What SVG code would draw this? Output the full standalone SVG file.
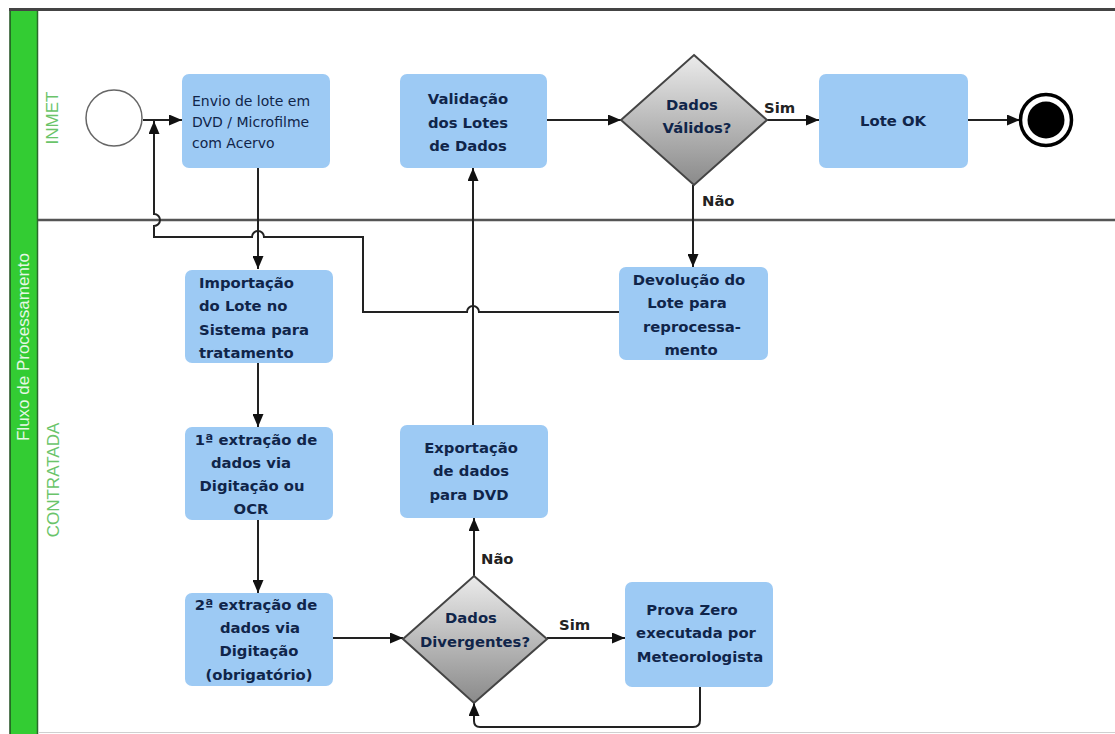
<svg xmlns="http://www.w3.org/2000/svg" width="1115" height="734" viewBox="0 0 1115 734">
<defs>
<linearGradient id="dg" x1="0" y1="0" x2="0" y2="1">
<stop offset="0" stop-color="#ebebeb"/>
<stop offset="1" stop-color="#8a8a8a"/>
</linearGradient>
<marker id="ah" viewBox="0 0 13 11" refX="13" refY="5.5" markerWidth="13" markerHeight="11" markerUnits="userSpaceOnUse" orient="auto">
<path d="M0,0 L13,5.5 L0,11 z" fill="#111"/>
</marker>
<style>
.box{fill:#9dcaf4;}
.t{font-family:"DejaVu Sans",Verdana,sans-serif;font-weight:bold;font-size:14.8px;fill:#10254a;}
.tr{font-family:"DejaVu Sans",Verdana,sans-serif;font-size:14px;fill:#10254a;}
.c{text-anchor:middle;}
.lbl{font-family:"DejaVu Sans",Verdana,sans-serif;font-weight:bold;font-size:14.8px;fill:#222;}
.lane{font-family:"Liberation Sans",Arial,sans-serif;font-size:17px;fill:#6ac46a;text-anchor:middle;}
.conn{fill:none;stroke:#222;stroke-width:2;}
.dia{fill:url(#dg);stroke:#444;stroke-width:2;}
</style>
</defs>
<rect x="0" y="0" width="1115" height="734" fill="#fff"/>
<g id="pool">
<rect x="10" y="8" width="28" height="726" fill="#33cc33"/>
<line x1="10" y1="8" x2="10" y2="734" stroke="#1f4f1f" stroke-width="1.5"/>
<line x1="37.5" y1="8" x2="37.5" y2="734" stroke="#2a6a2a" stroke-width="1.5"/>
<line x1="9" y1="9.5" x2="1115" y2="9.5" stroke="#444" stroke-width="3"/>
<line x1="38" y1="220" x2="1115" y2="220" stroke="#555" stroke-width="2.5"/>
<line x1="38" y1="732.5" x2="1115" y2="732.5" stroke="#d0d0d0" stroke-width="1"/>
<text class="lane" transform="translate(29,347) rotate(-90)" style="fill:#e6f8e6">Fluxo de Processamento</text>
<text class="lane" transform="translate(58,118) rotate(-90)">INMET</text>
<text class="lane" transform="translate(59,480) rotate(-90)">CONTRATADA</text>
</g>
<g id="connectors">
<path class="conn" d="M143,120 H182" marker-end="url(#ah)"/>
<path class="conn" d="M258,168 V269" marker-end="url(#ah)"/>
<path class="conn" d="M258,363 V427" marker-end="url(#ah)"/>
<path class="conn" d="M258,520 V593" marker-end="url(#ah)"/>
<path class="conn" d="M333,638 H403" marker-end="url(#ah)"/>
<path class="conn" d="M547,638 H625" marker-end="url(#ah)"/>
<path class="conn" d="M700,687 V720 Q700,727 693,727 H480 Q474,727 474,721 V703" marker-end="url(#ah)"/>
<path class="conn" d="M474,576 V518" marker-end="url(#ah)"/>
<path class="conn" d="M473,425 V168" marker-end="url(#ah)"/>
<path class="conn" d="M547,120 H621" marker-end="url(#ah)"/>
<path class="conn" d="M767,120 H819" marker-end="url(#ah)"/>
<path class="conn" d="M968,120 H1020" marker-end="url(#ah)"/>
<path class="conn" d="M693,185 V267" marker-end="url(#ah)"/>
<path class="conn" d="M619,312 H479 A6,6 0 0 0 467,312 H363 V237 H264 A6,6 0 0 0 252,237 H154 V226 A6,6 0 0 0 154,214 V121" marker-end="url(#ah)"/>
<text class="lbl" x="764" y="113">Sim</text>
<text class="lbl" x="702" y="206">Não</text>
<text class="lbl" x="559" y="630">Sim</text>
<text class="lbl" x="481" y="564">Não</text>
</g>
<g id="start"><circle cx="114" cy="118" r="28" fill="#fff" stroke="#666" stroke-width="1.5"/></g>
<g id="envio">
<rect class="box" x="182" y="74" width="148" height="94" rx="7"/>
<text class="tr" x="192" y="106">Envio de lote em</text>
<text class="tr" x="192" y="127">DVD / Microfilme</text>
<text class="tr" x="192" y="148">com Acervo</text>
</g>
<g id="validacao">
<rect class="box" x="400" y="74" width="147" height="94" rx="7"/>
<text class="t c" x="468" y="104">Validação</text>
<text class="t c" x="468" y="128">dos Lotes</text>
<text class="t c" x="468" y="151">de Dados</text>
</g>
<g id="validos">
<polygon class="dia" points="694,55 767,120 694,185 621,120"/>
<text class="t c" x="692" y="110">Dados</text>
<text class="t c" x="697" y="133">Válidos?</text>
</g>
<g id="loteok">
<rect class="box" x="819" y="74" width="149" height="94" rx="7"/>
<text class="t c" x="893" y="126">Lote OK</text>
</g>
<g id="end">
<circle cx="1046" cy="120" r="25.5" fill="#fff" stroke="#000" stroke-width="3.5"/>
<circle cx="1046" cy="120" r="18.5" fill="#000"/>
</g>
<g id="devolucao">
<rect class="box" x="619" y="267" width="149" height="93" rx="7"/>
<text class="t c" x="689" y="285">Devolução do</text>
<text class="t c" x="687" y="308">Lote para</text>
<text class="t c" x="692" y="332">reprocessa-</text>
<text class="t c" x="691" y="355">mento</text>
</g>
<g id="importacao">
<rect class="box" x="185" y="270" width="148" height="93" rx="7"/>
<text class="t" x="199" y="288">Importação</text>
<text class="t" x="199" y="311">do Lote no</text>
<text class="t" x="199" y="335">Sistema para</text>
<text class="t" x="199" y="358">tratamento</text>
</g>
<g id="extracao1">
<rect class="box" x="185" y="427" width="148" height="93" rx="7"/>
<text class="t c" x="256" y="445">1ª extração de</text>
<text class="t c" x="251" y="468">dados via</text>
<text class="t c" x="252" y="491">Digitação ou</text>
<text class="t c" x="251" y="514">OCR</text>
</g>
<g id="extracao2">
<rect class="box" x="185" y="593" width="148" height="93" rx="7"/>
<text class="t c" x="256" y="610">2ª extração de</text>
<text class="t c" x="260" y="633">dados via</text>
<text class="t c" x="259" y="656">Digitação</text>
<text class="t c" x="259" y="680">(obrigatório)</text>
</g>
<g id="exportacao">
<rect class="box" x="400" y="425" width="148" height="93" rx="7"/>
<text class="t c" x="471" y="453">Exportação</text>
<text class="t c" x="471" y="476">de dados</text>
<text class="t c" x="469" y="500">para DVD</text>
</g>
<g id="divergentes">
<polygon class="dia" points="474,576 547,639 474,703 403,639"/>
<text class="t c" x="471" y="623">Dados</text>
<text class="t c" x="475" y="647">Divergentes?</text>
</g>
<g id="prova">
<rect class="box" x="625" y="582" width="148" height="105" rx="7"/>
<text class="t c" x="692" y="615">Prova Zero</text>
<text class="t c" x="696" y="638">executada por</text>
<text class="t c" x="700" y="662">Meteorologista</text>
</g>
</svg>
